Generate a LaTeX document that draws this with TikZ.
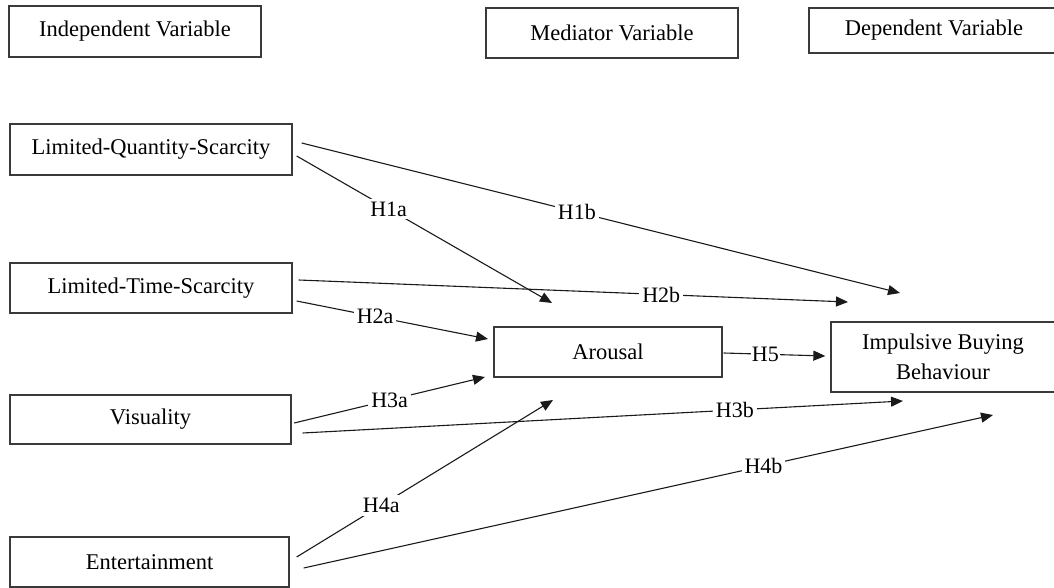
\documentclass[tikz,border=0pt]{standalone}
\usepackage{fontspec}
\setmainfont{Liberation Serif}
\usepackage{tikz}
\usetikzlibrary{arrows.meta, positioning}
\definecolor{boxgrey}{HTML}{3a3a3a}
\definecolor{linegrey}{HTML}{1a1a1a}
\tikzset{
  varbox/.style={rectangle, draw=boxgrey, line width=1.3pt, fill=white,
                 minimum width=282pt, minimum height=50pt, inner sep=0pt,
                 align=center, font=\fontsize{22.5}{30}\selectfont},
  headbox/.style={varbox, minimum width=252pt},
  hlink/.style={-{Triangle[length=12pt,width=10pt]}, line width=1.1pt, draw=linegrey},
  hlab/.style={fill=white, inner sep=3pt, font=\fontsize{22}{24}\selectfont},
}
\begin{document}
\begin{tikzpicture}[x=1pt, y=-1pt]
  \useasboundingbox (0,0) rectangle (1054,588);

  % --- Column headings ---
  \node[headbox, minimum height=51pt] (indep) at (135,31.5) {Independent Variable};
  \node[headbox] (medi) at (612,33) {Mediator Variable};
  \node[headbox, minimum width=250pt, minimum height=45pt] (dep) at (934,30.5) {Dependent Variable};

  % --- Independent variables ---
  \node[varbox, minimum height=51pt] (lqs) at (151,149.5) {Limited-Quantity-Scarcity};
  \node[varbox] (lts) at (151,288) {Limited-Time-Scarcity};
  \node[varbox, minimum width=281pt, minimum height=49pt] (vis) at (150.5,419.5) {Visuality};
  \node[varbox, minimum width=279pt] (ent) at (149.5,562) {Entertainment};

  % --- Mediator and outcome ---
  \node[varbox, minimum width=228pt] (arou) at (608,352) {Arousal};
  \node[varbox, minimum width=224pt, minimum height=70pt] (ibb) at (943,357)
       {Impulsive Buying\\Behaviour};

  % --- Arrow tips (free ends) ---
  \coordinate (h1aEnd) at (552,303);
  \coordinate (h1bEnd) at (900,293);
  \coordinate (h2aEnd) at (488,339);
  \coordinate (h2bEnd) at (848,302);
  \coordinate (h3aEnd) at (485,377);
  \coordinate (h3bEnd) at (903,401);
  \coordinate (h4aEnd) at (553,400);
  \coordinate (h4bEnd) at (993,415);

  % --- Hypothesised paths ---
  \draw[hlink] ([shift={(4,6.5)}]lqs.east) -- node[hlab, pos=0.36]{H1a} (h1aEnd);
  \draw[hlink] ([shift={(9,-6.5)}]lqs.east) -- node[hlab, pos=0.46]{H1b} (h1bEnd);
  \draw[hlink] ([shift={(4,13)}]lts.east) -- node[hlab, pos=0.41]{H2a} (h2aEnd);
  \draw[hlink] ([shift={(6,-8)}]lts.east) -- node[hlab, pos=0.66]{H2b} (h2bEnd);
  \draw[hlink] ([shift={(2.5,3.5)}]vis.east) -- node[hlab, pos=0.5]{H3a} (h3aEnd);
  \draw[hlink] ([shift={(11,13.5)}]vis.east) -- node[hlab, pos=0.72]{H3b} (h3bEnd);
  \draw[hlink] ([shift={(7,-5)}]ent.east) -- node[hlab, pos=0.33]{H4a} (h4aEnd);
  \draw[hlink] ([shift={(14,6)}]ent.east) -- node[hlab, pos=0.667]{H4b} (h4bEnd);
  \draw[hlink] ([shift={(1,1)}]arou.east) -- node[hlab, pos=0.41, inner sep=1pt]{H5}
        ([shift={(-5,-1)}]ibb.west);

\end{tikzpicture}
\end{document}
